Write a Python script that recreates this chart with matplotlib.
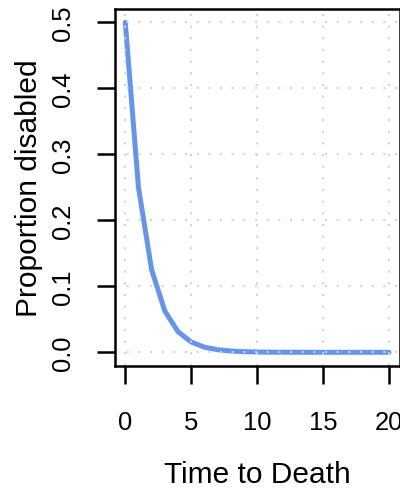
import matplotlib
matplotlib.use('Agg')
import matplotlib.pyplot as plt

# data
time = [0, 1, 2, 3, 4, 5, 6, 7, 8, 9, 10, 11, 12, 13, 14, 15, 16, 17, 18, 19, 20]
prop_disabled = [0.5, 0.25, 0.125, 0.0625, 0.0313, 0.0156, 0.0078, 0.0039,
                 0.002, 0.001, 0.0005, 0.0002, 0.0001, 0.0001, 0.0, 0.0,
                 0.0, 0.0, 0.0, 0.0, 0.0]
xticks = [0, 5, 10, 15, 20]
yticks = [0.0, 0.1, 0.2, 0.3, 0.4, 0.5]
ytick_labels = ['0.0', '0.1', '0.2', '0.3', '0.4', '0.5']

plt.rcParams['font.family'] = ['Liberation Sans', 'DejaVu Sans']

fig = plt.figure(figsize=(4.0, 4.89), dpi=100)
ax = fig.add_axes([0.2868, 0.2505, 0.712, 0.7288])

ax.plot(time, prop_disabled, color='cornflowerblue', lw=3.6,
        solid_capstyle='round', solid_joinstyle='round', zorder=2)

ax.set_xlim(-0.8, 20.8)
ax.set_ylim(-0.02, 0.52)

# R-style grid(): dotted lightgray, drawn over the curve
for x in xticks:
    ax.axvline(x, color='lightgray', lw=1.5, ls=(0, (1, 4.6)), zorder=3)
for y in yticks:
    ax.axhline(y, color='lightgray', lw=1.5, ls=(0, (1, 4.6)), zorder=3)

for s in ax.spines.values():
    s.set_linewidth(1.8)
    s.set_zorder(4)

ax.set_xticks(xticks)
ax.set_yticks(yticks)
ax.set_yticklabels(ytick_labels, rotation=90, va='center', ha='center')
ax.tick_params(axis='both', length=13.3, width=1.8, labelsize=18.4)
ax.tick_params(axis='x', pad=19)
ax.tick_params(axis='y', pad=24)

ax.set_xlabel('Time to Death', fontsize=21.5)
ax.set_ylabel('Proportion disabled', fontsize=21.5)
ax.xaxis.set_label_coords(0.5, -0.265)
ax.yaxis.set_label_coords(-0.252, 0.5)

plt.savefig('out.png', dpi=100)
plt.close()
